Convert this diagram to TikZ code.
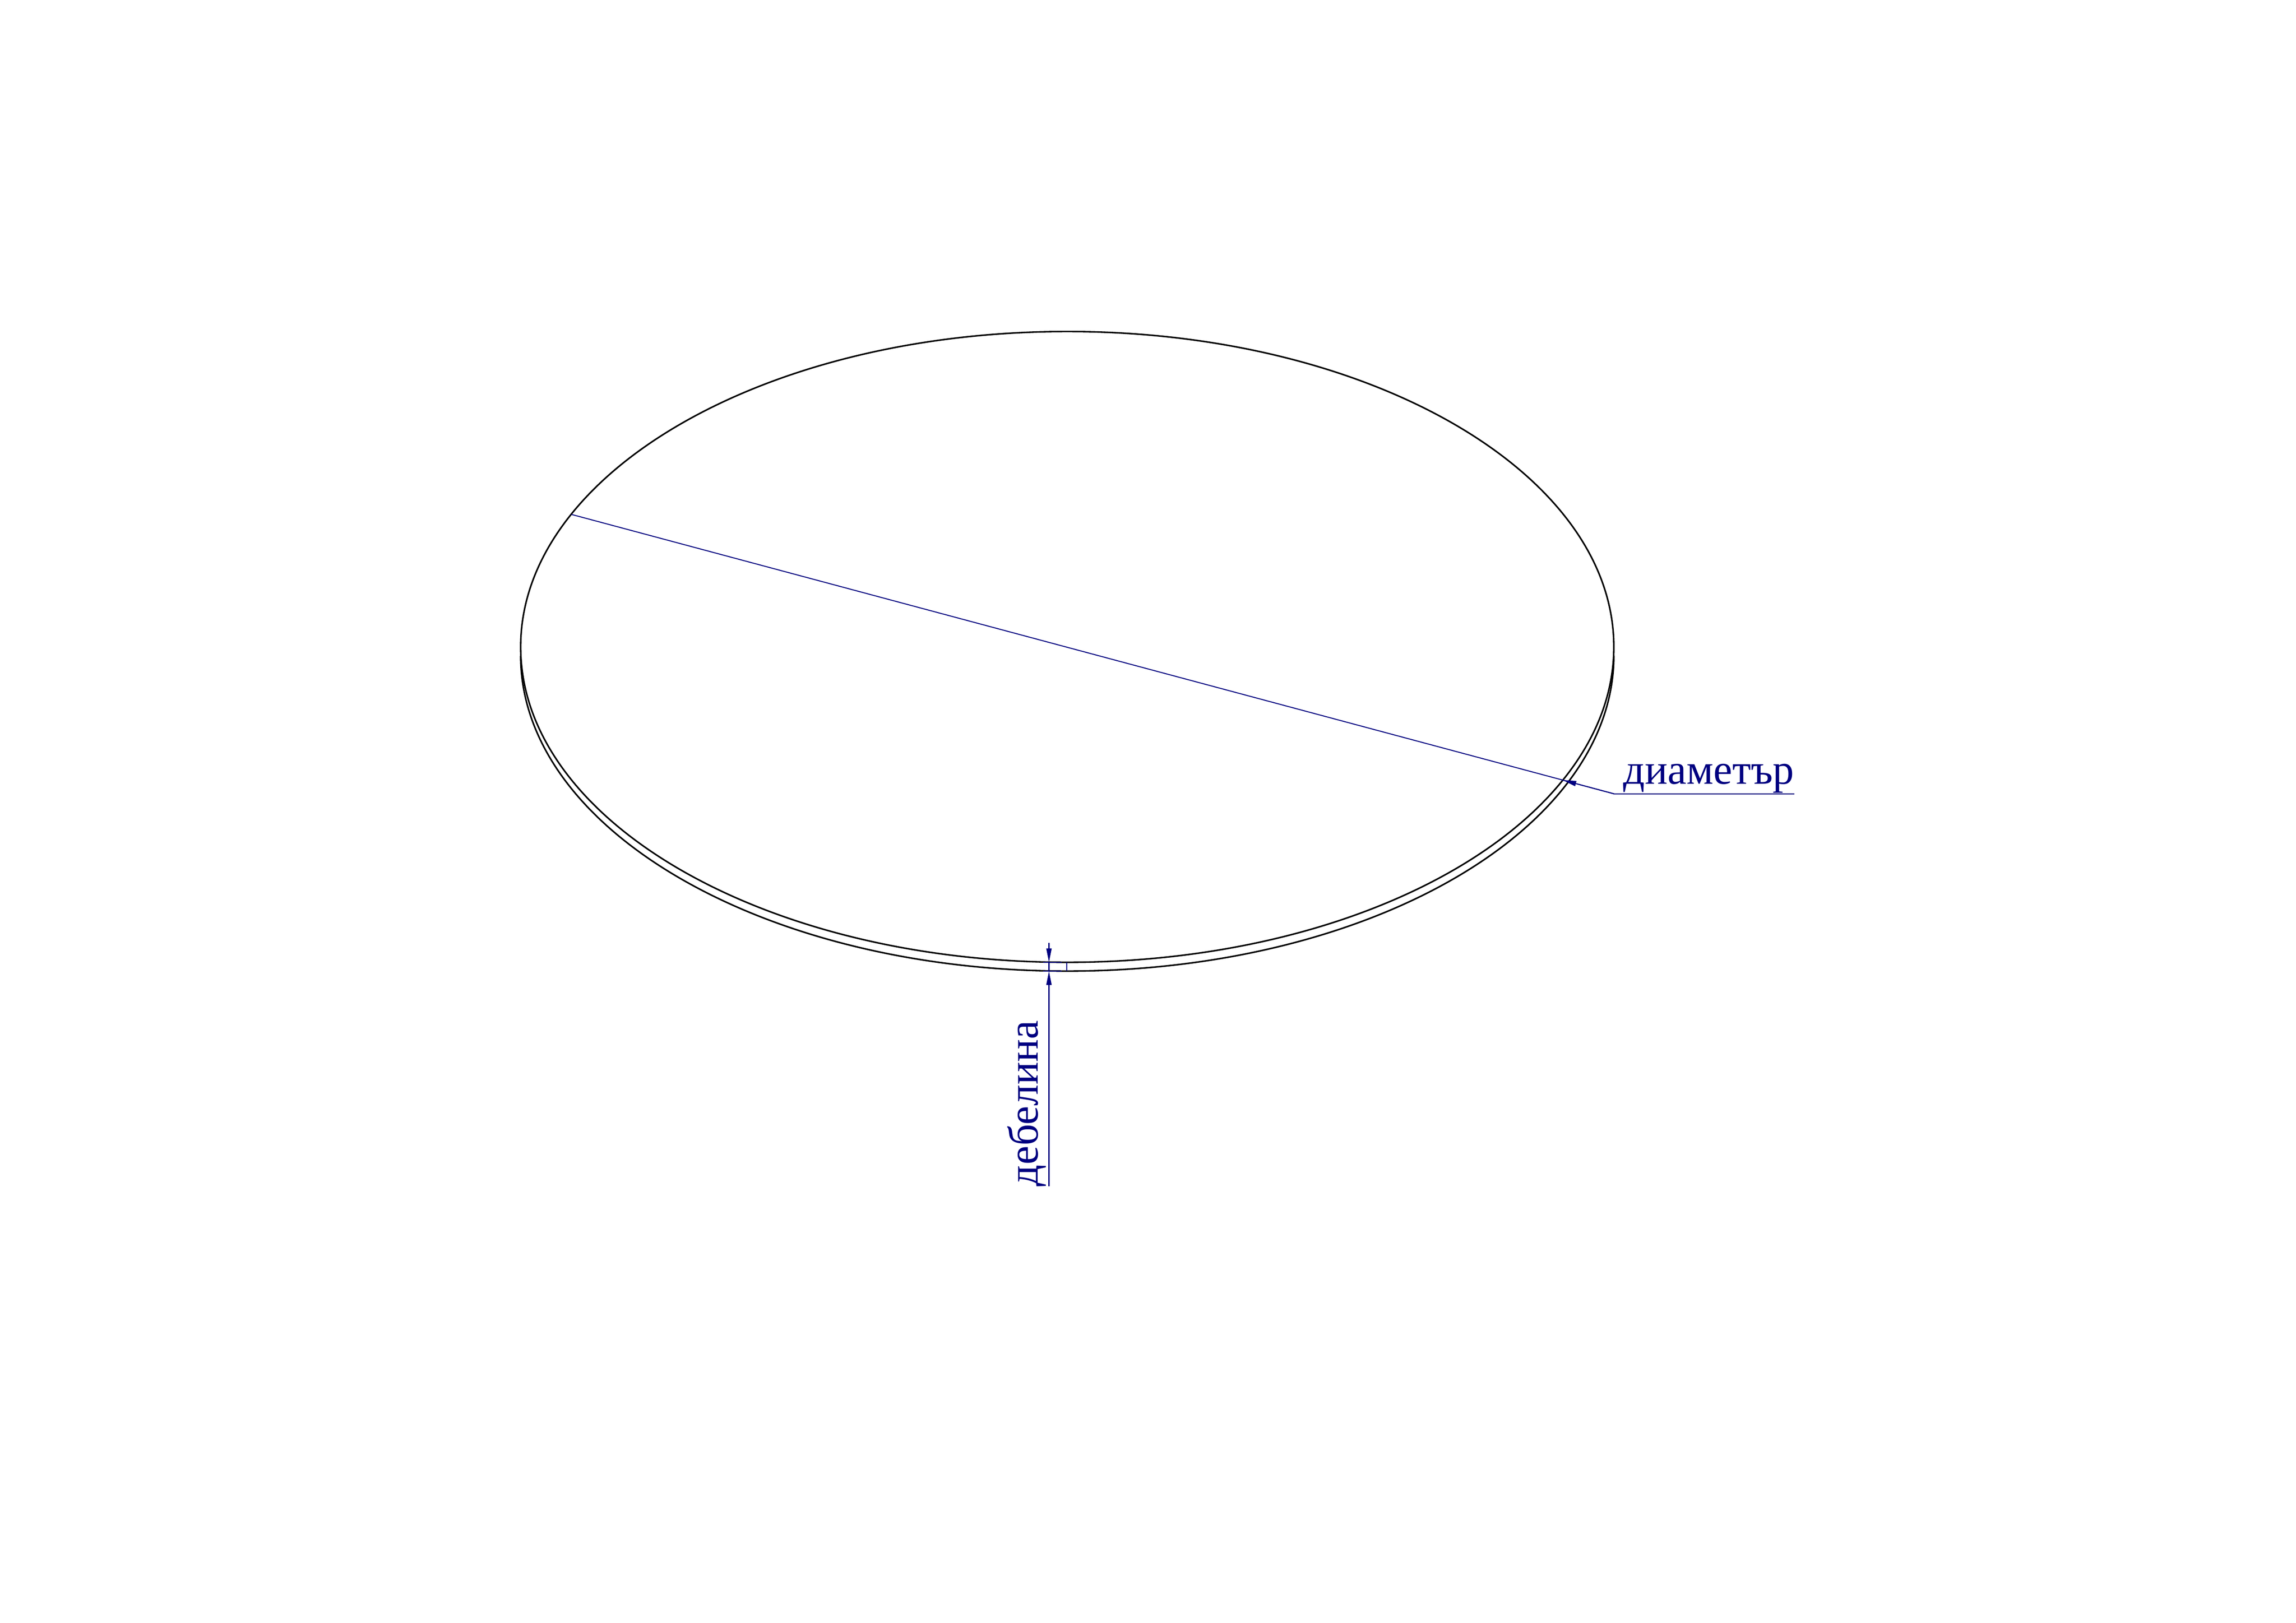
\documentclass[tikz,border=0pt]{standalone}
\usepackage{fontspec}
\setmainfont{Liberation Serif}
\usetikzlibrary{arrows.meta}
\definecolor{dimblue}{RGB}{0,0,128}
\tikzset{
  outline/.style={draw=black,line width=0.95pt},
  dimline/.style={draw=dimblue,line width=0.6pt},
  dimarrow/.style={dimline,-{Triangle[length=8.5pt,width=3.2pt]}},
  dimtext/.style={font=\fontsize{26.1}{30}\selectfont,text=dimblue,inner sep=0pt},
}
\begin{document}
\begin{tikzpicture}
\useasboundingbox (0,0) rectangle (49.61,35.08);
\draw[outline] (23.06,21.097) ellipse (11.81 and 6.817);
\draw[outline] (11.25,20.907) arc[start angle=180,end angle=360,x radius=11.81,y radius=6.817];

% diameter leader
\coordinate (diastart) at (12.35,23.96);
\coordinate (diatip) at (33.76,18.22);
\coordinate (diaknee) at (34.88,17.92);
\coordinate (diaend) at (38.77,17.92);
\draw[dimline] (diastart) -- (diaknee) -- (diaend);
\draw[dimarrow] (diaknee) -- (diatip);
\node[dimtext,anchor=base west] (dialabel) at (35.07,18.13) {диаметър};

% thickness leader
\coordinate (thtop) at (22.665,14.70);
\coordinate (thupper) at (22.665,14.28);
\coordinate (thlower) at (22.665,14.09);
\coordinate (thend) at (22.665,9.44);
\draw[dimarrow] (thtop) -- (thupper);
\draw[dimarrow] (thend) -- (thlower);
\draw[dimline] (thupper) -- (thlower);
\draw[dimline] (22.54,14.28) -- (22.94,14.28);
\draw[dimline] (22.54,14.09) -- (22.94,14.09);
\draw[dimline] (23.05,14.28) -- (23.05,14.09);
\node[dimtext,rotate=90,anchor=base west] (thlabel) at (22.42,9.43) {дебелина};
\end{tikzpicture}
\end{document}
